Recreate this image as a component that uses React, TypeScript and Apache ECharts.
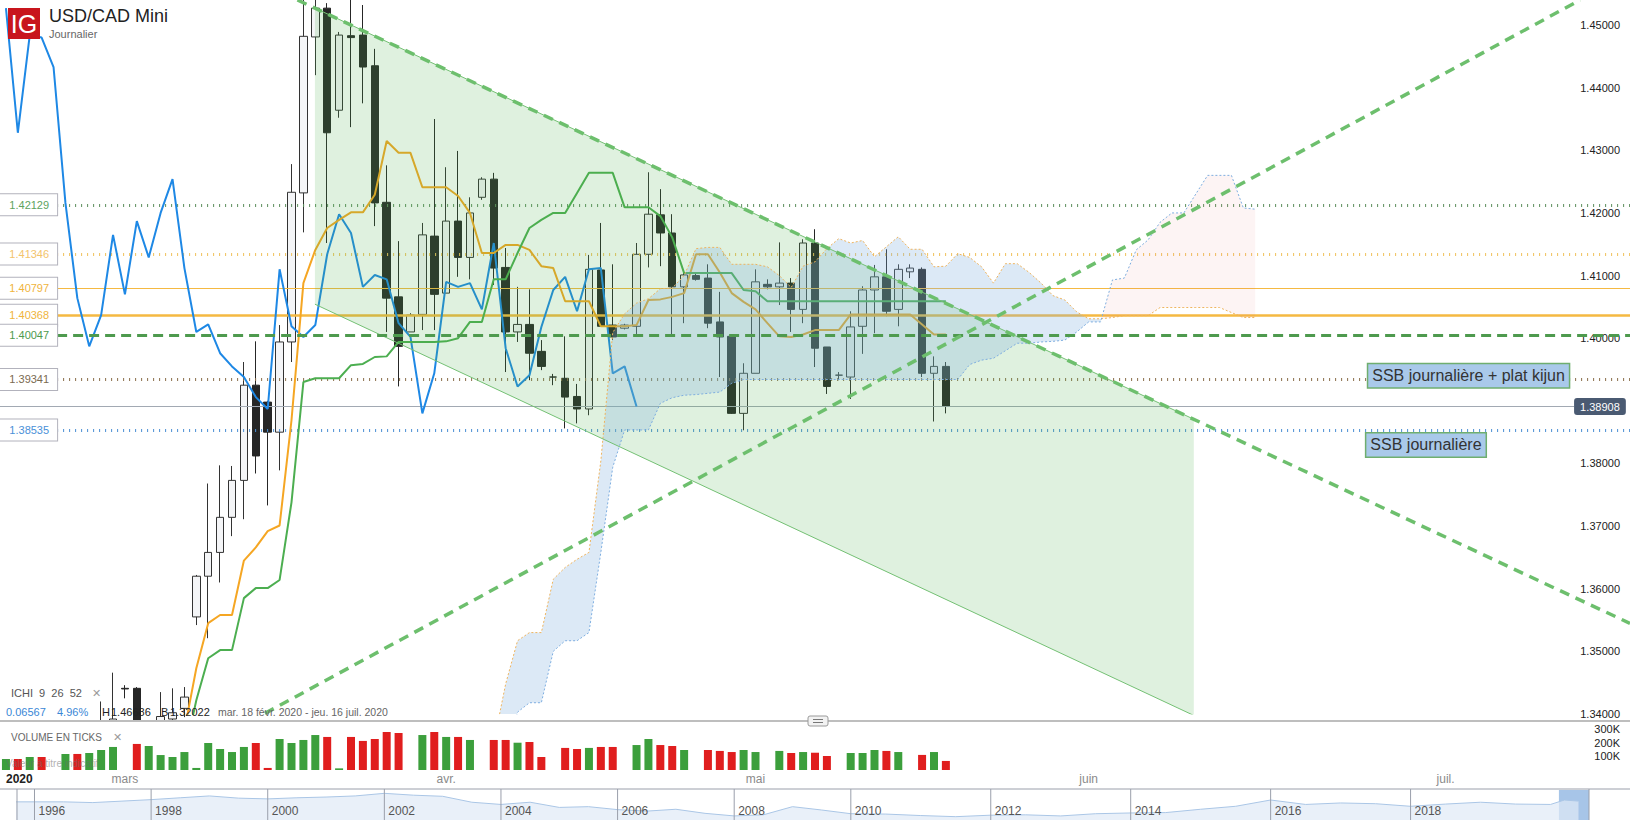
import React, { useEffect, useRef } from 'react';
import * as echarts from 'echarts';

const FONT = 'Liberation Sans, Arial, sans-serif';

// ---------- x slots (trading sessions, then calendar days in the future) ----------
const SLOT_COUNT = 137;
const slotKeys: string[] = Array.from({ length: SLOT_COUNT }, (_, i) => String(i));
const monthLabels: [number, string][] = [
  [10, 'mars'], [37, 'avr.'], [63, 'mai'], [91, 'juin'], [121, 'juil.'],
];

// ---------- candles: [open, close, low, high] ----------
const candles: number[][] = [
  [1.3240, 1.3262, 1.3225, 1.3275], [1.3262, 1.3248, 1.3205, 1.3270], [1.3248, 1.3275, 1.3202, 1.3290],
  [1.3275, 1.3240, 1.3230, 1.3300], [1.3241, 1.3242, 1.3238, 1.3245], [1.3245, 1.3300, 1.3240, 1.3315],
  [1.3300, 1.3285, 1.3270, 1.3345], [1.3285, 1.3330, 1.3280, 1.3355], [1.3330, 1.3385, 1.3320, 1.3420],
  [1.3385, 1.3392, 1.3330, 1.3466], [1.3441, 1.3440, 1.3425, 1.3446], [1.3441, 1.3370, 1.3340, 1.3443],
  [1.3360, 1.3378, 1.3320, 1.3390], [1.3378, 1.3396, 1.3340, 1.3435], [1.3392, 1.3402, 1.3360, 1.3441],
  [1.3409, 1.3427, 1.3395, 1.3443], [1.3555, 1.3620, 1.3542, 1.3622], [1.3620, 1.3658, 1.3521, 1.3768],
  [1.3658, 1.3714, 1.3610, 1.3797], [1.3714, 1.3773, 1.3684, 1.3796], [1.3773, 1.3925, 1.3711, 1.3962],
  [1.3925, 1.3812, 1.3784, 1.3995], [1.3898, 1.3850, 1.3733, 1.3900], [1.3850, 1.3994, 1.3789, 1.4021],
  [1.3994, 1.4233, 1.3962, 1.4278], [1.4232, 1.4482, 1.4169, 1.4550], [1.4481, 1.4527, 1.4420, 1.4669],
  [1.4527, 1.4328, 1.4152, 1.4535], [1.4364, 1.4484, 1.4352, 1.4489], [1.4483, 1.4480, 1.4337, 1.4552],
  [1.4484, 1.4433, 1.4375, 1.4532], [1.4435, 1.4216, 1.4179, 1.4462], [1.4217, 1.4064, 1.4010, 1.4276],
  [1.4066, 1.3987, 1.3923, 1.4155], [1.4010, 1.4037, 1.4010, 1.4040], [1.4038, 1.4165, 1.4013, 1.4184],
  [1.4163, 1.4070, 1.4013, 1.4350], [1.4072, 1.4187, 1.4072, 1.4273], [1.4187, 1.4129, 1.4098, 1.4299],
  [1.4129, 1.4200, 1.4094, 1.4225], [1.4225, 1.4254, 1.4221, 1.4257], [1.4254, 1.4112, 1.4085, 1.4264],
  [1.4113, 1.4010, 1.3946, 1.4144], [1.4010, 1.4022, 1.3994, 1.4082], [1.4022, 1.3976, 1.3933, 1.4078],
  [1.3979, 1.3955, 1.3949, 1.3997], [1.3938, 1.3938, 1.3925, 1.3943], [1.3936, 1.3906, 1.3856, 1.4003],
  [1.3907, 1.3887, 1.3864, 1.3927], [1.3887, 1.4110, 1.3877, 1.4133], [1.4109, 1.4019, 1.4018, 1.4184],
  [1.4021, 1.4002, 1.3997, 1.4118], [1.4016, 1.4021, 1.4014, 1.4023], [1.4019, 1.4134, 1.4005, 1.4152],
  [1.4134, 1.4198, 1.4113, 1.4265], [1.4197, 1.4168, 1.4115, 1.4238], [1.4168, 1.4082, 1.4002, 1.4198],
  [1.4082, 1.4101, 1.4024, 1.4106], [1.4100, 1.4094, 1.4092, 1.4104], [1.4096, 1.4024, 1.4016, 1.4118],
  [1.4026, 1.4002, 1.3938, 1.4074], [1.4003, 1.3880, 1.3879, 1.4003], [1.3880, 1.3944, 1.3853, 1.3960],
  [1.3944, 1.4090, 1.3944, 1.4110], [1.4086, 1.4082, 1.4078, 1.4094], [1.4082, 1.4088, 1.4053, 1.4153],
  [1.4088, 1.4046, 1.4010, 1.4096], [1.4046, 1.4152, 1.4024, 1.4158], [1.4152, 1.3984, 1.3954, 1.4174],
  [1.3986, 1.3923, 1.3911, 1.3986], [1.3941, 1.3941, 1.3933, 1.3946], [1.3938, 1.4018, 1.3903, 1.4043],
  [1.4019, 1.4077, 1.3975, 1.4083], [1.4077, 1.4098, 1.4008, 1.4117], [1.4098, 1.4043, 1.4035, 1.4142],
  [1.4046, 1.4110, 1.4019, 1.4118], [1.4106, 1.4112, 1.4096, 1.4118], [1.4110, 1.3944, 1.3938, 1.4113],
  [1.3944, 1.3955, 1.3867, 1.3971], [1.3955, 1.3891, 1.3880, 1.3962],
];

// ---------- tick volume (thousands), null = no bar ----------
const volumesK: (number | null)[] = [
  80, 80, 95, 95, null, 117, 117, 124, 146, 168, null, 190, 175, 109, 95, 131, 15, 197, 153, 131,
  168, 197, 15, 226, 197, 219, 255, 241, 12, 241, 212, 226, 277, 270, null, 255, 277, 241, 241, 219,
  null, 219, 219, 199, 204, 95, null, 161, 153, 161, 168, 168, null, 182, 226, 182, 175, 146, null, 146,
  139, 131, 146, 131, null, 139, 124, 131, 126, 102, null, 124, 124, 146, 139, 131, null, 110, 131, 66,
];

// ---------- Ichimoku (9, 26, 52) ----------
const tenkan: number[] = [
  1.3275, 1.3270, 1.3262, 1.3251, 1.3251, 1.3256, 1.3275, 1.3279, 1.3311, 1.3334,
  1.3334, 1.3337, 1.3343, 1.3353, 1.3372, 1.3374, 1.3473, 1.3545, 1.3558, 1.3558,
  1.3645, 1.3666, 1.3692, 1.3701, 1.3869, 1.4088, 1.4141, 1.4176, 1.4189, 1.4201,
  1.4201, 1.4229, 1.4315, 1.4296, 1.4296, 1.4241, 1.4241, 1.4241, 1.4227, 1.4200,
  1.4136, 1.4136, 1.4149, 1.4149, 1.4141, 1.4115, 1.4112, 1.4059, 1.4059, 1.4059,
  1.4019, 1.4019, 1.4019, 1.4021, 1.4061, 1.4062, 1.4066, 1.4072, 1.4134, 1.4134,
  1.4105, 1.4072, 1.4058, 1.4046, 1.4024, 1.4003, 1.4002, 1.4006, 1.4013, 1.4013,
  1.4013, 1.4038, 1.4038, 1.4038, 1.4038, 1.4038, 1.4038, 1.4022, 1.4006, 1.4006,
];
const kijun: number[] = [
  1.3235, 1.3235, 1.3235, 1.3235, 1.3235, 1.3240, 1.3255, 1.3258, 1.3290, 1.3320,
  1.3320, 1.3320, 1.3330, 1.3334, 1.3334, 1.3334, 1.3422, 1.3489, 1.3502, 1.3502,
  1.3585, 1.3601, 1.3601, 1.3614, 1.3738, 1.3930, 1.3936, 1.3936, 1.3936, 1.3957,
  1.3959, 1.3970, 1.3971, 1.3994, 1.3994, 1.3994, 1.3994, 1.3995, 1.4000, 1.4026,
  1.4026, 1.4094, 1.4094, 1.4136, 1.4176, 1.4189, 1.4200, 1.4200, 1.4232, 1.4264,
  1.4264, 1.4264, 1.4209, 1.4209, 1.4209, 1.4195, 1.4161, 1.4104, 1.4104, 1.4104,
  1.4104, 1.4104, 1.4077, 1.4075, 1.4059, 1.4059, 1.4059, 1.4059, 1.4059, 1.4059,
  1.4059, 1.4059, 1.4059, 1.4059, 1.4059, 1.4059, 1.4059, 1.4059, 1.4059, 1.4059,
];
const chikou: number[] = [
  1.4527, 1.4328, 1.4484, 1.4480, 1.4433, 1.4216, 1.4064, 1.3987, 1.4037, 1.4165,
  1.4070, 1.4187, 1.4129, 1.4200, 1.4254, 1.4112, 1.4010, 1.4022, 1.3976, 1.3955,
  1.3938, 1.3906, 1.3887, 1.4110, 1.4019, 1.4002, 1.4021, 1.4134, 1.4198, 1.4168,
  1.4082, 1.4101, 1.4094, 1.4024, 1.4002, 1.3880, 1.3944, 1.4090, 1.4082, 1.4088,
  1.4046, 1.4152, 1.3984, 1.3923, 1.3941, 1.4018, 1.4077, 1.4098, 1.4043, 1.4110,
  1.4112, 1.3944, 1.3955, 1.3891,
];
const CLOUD_START = 40;
const senkouA: number[] = [
  1.3340, 1.3354, 1.3448, 1.3517, 1.3530, 1.3530, 1.3615, 1.3634, 1.3647, 1.3658,
  1.3804, 1.4009, 1.4039, 1.4056, 1.4063, 1.4079, 1.4080, 1.4100, 1.4143, 1.4145,
  1.4145, 1.4118, 1.4118, 1.4118, 1.4114, 1.4100, 1.4081, 1.4115, 1.4122, 1.4143,
  1.4159, 1.4152, 1.4156, 1.4130, 1.4146, 1.4162, 1.4142, 1.4142, 1.4114, 1.4115,
  1.4135, 1.4129, 1.4114, 1.4088, 1.4119, 1.4119, 1.4105, 1.4088, 1.4068, 1.4061,
  1.4042, 1.4031, 1.4031, 1.4033, 1.4036, 1.4036, 1.4036, 1.4049, 1.4049, 1.4049,
  1.4049, 1.4049, 1.4049, 1.4041, 1.4033, 1.4033,
];
const senkouB: number[] = [
  1.3320, 1.3325, 1.3329, 1.3403, 1.3418, 1.3418, 1.3500, 1.3517, 1.3517, 1.3530,
  1.3658, 1.3794, 1.38535, 1.38535, 1.38535, 1.3896, 1.3905, 1.3909, 1.3910, 1.3912,
  1.3914, 1.3928, 1.39341, 1.39341, 1.39341, 1.39341, 1.39341, 1.39341, 1.39341, 1.39341,
  1.39341, 1.39341, 1.39341, 1.39341, 1.39341, 1.39341, 1.39341, 1.39341, 1.39341, 1.39341,
  1.39341, 1.3958, 1.3965, 1.3968, 1.3980, 1.3992, 1.3992, 1.3994, 1.3995, 1.3997,
  1.4010, 1.4026, 1.4026, 1.4093, 1.4096, 1.4141, 1.4157, 1.4185, 1.4200, 1.4200,
  1.4230, 1.4260, 1.4260, 1.4260, 1.4208, 1.4206,
];

// ---------- drawn objects (slot, price) ----------
const channelUpper: [number, number][] = [[25.97, 1.45271], [99.84, 1.38706]];
const channelLower: [number, number][] = [[25.97, 1.40543], [99.84, 1.33977]];
const trendDown: [number, number][] = [[24.5, 1.4540], [136.5, 1.35447]];
const trendUp: [number, number][] = [[20.51, 1.3388], [132.3, 1.45399]];

const levels = [
  { price: 1.42129, line: '#5d8f5d', width: 3, dash: [1, 5] as any, text: '#5ea35e', top: false },
  { price: 1.41346, line: '#f0c15a', width: 3, dash: [1, 5] as any, text: '#f3c46c', top: false },
  { price: 1.40797, line: '#f5b942', width: 1, dash: 'solid' as any, text: '#f0b43c', top: false },
  { price: 1.40368, line: '#f5b942', width: 2.5, dash: 'solid' as any, text: '#f0b43c', top: false },
  { price: 1.40047, line: '#4e9a4e', width: 3, dash: [10, 6] as any, text: '#4e9a4e', top: true },
  { price: 1.39341, line: '#8a6e4a', width: 3, dash: [1, 5] as any, text: '#7a6a50', top: false },
  { price: 1.38535, line: '#4a8ed4', width: 3, dash: [1, 5] as any, text: '#4a90d8', top: false },
];
const LEVEL_START = 4.3;
const lastPrice = 1.38908;
// axis tick hidden behind the last-price tag
const hiddenPriceTicks: number[] = [1.39];
const annotations = [
  { slot: 114.46, price: 1.3940, text: 'SSB journalière + plat kijun' },
  { slot: 114.3, price: 1.38295, text: 'SSB journalière' },
];

// ---------- navigator (long-term history) ----------
const navYears: number[] = [
  1995.5, 1996, 1996.5, 1997, 1997.5, 1998, 1998.5, 1999, 1999.5, 2000, 2000.5, 2001, 2001.5,
  2002, 2002.5, 2003, 2003.5, 2004, 2004.5, 2005, 2005.5, 2006, 2006.5, 2007, 2007.5, 2008,
  2008.5, 2009, 2009.5, 2010, 2010.5, 2011, 2011.5, 2012, 2012.5, 2013, 2013.5, 2014, 2014.5,
  2015, 2015.5, 2016, 2016.5, 2017, 2017.5, 2018, 2018.5, 2019, 2019.5, 2020, 2020.2, 2020.4,
];
const navValues: number[] = [
  1.37, 1.37, 1.37, 1.35, 1.39, 1.43, 1.48, 1.53, 1.47, 1.45, 1.48, 1.50, 1.53,
  1.60, 1.55, 1.52, 1.36, 1.30, 1.36, 1.22, 1.24, 1.16, 1.12, 1.17, 1.06, 0.99,
  1.02, 1.24, 1.15, 1.05, 1.04, 1.00, 0.97, 1.01, 1.02, 0.99, 1.05, 1.07, 1.08,
  1.17, 1.25, 1.42, 1.30, 1.34, 1.32, 1.25, 1.31, 1.36, 1.31, 1.30, 1.42, 1.39,
];
const navYearTicks: number[] = [1996, 1998, 2000, 2002, 2004, 2006, 2008, 2010, 2012, 2014, 2016, 2018];
// navigator is linear in bars: 5 bars/week before 2010, 6 after
const navIndex = (y: number) => (y < 2010 ? (y - 1995) * 5 : 75 + (y - 2010) * 6);

const UP_VOL = '#3c9f3c';
const DOWN_VOL = '#e01e1e';

function buildOption(): any {
  const pad = (start: number, arr: number[]) =>
    Array.from({ length: start + arr.length }, (_, i) => (i < start ? null : arr[i - start]));

  const volData = volumesK.map((v, i) =>
    v == null ? '-' : { value: v * 1000, itemStyle: { color: candles[i][1] >= candles[i][0] ? UP_VOL : DOWN_VOL } });

  const monthMap: Record<number, string> = {};
  monthLabels.forEach(([i, l]) => (monthMap[i] = l));

  const levelItem = (lv: typeof levels[number]) => [
    {
      coord: [LEVEL_START, lv.price],
      lineStyle: { color: lv.line, width: lv.width, type: lv.dash },
      label: {
        show: true, position: 'start', distance: 0, formatter: lv.price.toFixed(5),
        color: lv.text, fontSize: 11, fontFamily: FONT, backgroundColor: '#fff',
        borderColor: '#b2b2bc', borderWidth: 1, padding: [5, 8, 5, 10],
      },
    },
    { coord: [136.5, lv.price] },
  ];

  const clipGroup = (params: any, children: any[]) => {
    const cs = params.coordSys;
    return {
      type: 'group',
      clipPath: { type: 'rect', shape: { x: cs.x, y: cs.y, width: cs.width, height: cs.height } },
      children,
    };
  };

  return {
    animation: false,
    backgroundColor: '#fff',
    textStyle: { fontFamily: FONT },
    grid: [
      { left: 0, top: 0, width: 1630, height: 714 },
      { left: 0, top: 722, width: 1630, height: 48 },
      { left: 17, top: 790, width: 1572, height: 30 },
    ],
    xAxis: [
      { type: 'category', gridIndex: 0, data: slotKeys, show: false },
      { type: 'value', gridIndex: 0, min: -0.5, max: SLOT_COUNT - 0.5, show: false },
      {
        type: 'category', gridIndex: 1, data: slotKeys, z: 5,
        axisLine: { show: false }, axisTick: { show: false },
        axisLabel: {
          interval: 0, margin: 3, color: '#8a8a8a', fontSize: 12, fontFamily: FONT,
          formatter: (_v: string, i: number) => monthMap[i] ?? '',
        },
      },
      { type: 'value', gridIndex: 2, min: navIndex(1995.7), max: navIndex(2020.55), show: false },
    ],
    yAxis: [
      {
        type: 'value', gridIndex: 0, position: 'right', min: 1.34, max: 1.454, interval: 0.01,
        axisLine: { show: false }, axisTick: { show: false }, splitLine: { show: false },
        axisLabel: {
          inside: true, margin: 10, color: '#222', fontSize: 11, fontFamily: FONT, showMaxLabel: false,
          formatter: (v: number) =>
            hiddenPriceTicks.some((h) => Math.abs(h - v) < 1e-6) ? '' : v.toFixed(5),
        },
      },
      {
        type: 'value', gridIndex: 1, position: 'right', min: 0, max: 350000, interval: 100000, z: 5,
        axisLine: { show: false }, axisTick: { show: false }, splitLine: { show: false },
        axisLabel: {
          inside: true, margin: 10, color: '#222', fontSize: 11, fontFamily: FONT, showMaxLabel: false,
          formatter: (v: number) => (v === 0 ? '' : v / 1000 + 'K'),
        },
      },
      { type: 'value', gridIndex: 2, min: 0.88, max: 1.69, show: false },
    ],
    series: [
      {
        type: 'candlestick', xAxisIndex: 0, yAxisIndex: 0, data: candles, barWidth: 8, clip: true, z: 1,
        itemStyle: { color: '#f4f5f7', color0: '#262626', borderColor: '#333', borderColor0: '#262626', borderWidth: 1 },
      },
      {
        type: 'line', name: 'chikou', xAxisIndex: 0, yAxisIndex: 0, data: chikou, symbol: 'none', z: 3,
        lineStyle: { color: '#1e88e5', width: 2 },
      },
      {
        type: 'line', name: 'tenkan', xAxisIndex: 0, yAxisIndex: 0, data: tenkan, symbol: 'none', z: 3,
        lineStyle: { color: '#f5a623', width: 2 },
      },
      {
        type: 'line', name: 'kijun', xAxisIndex: 0, yAxisIndex: 0, data: kijun, symbol: 'none', z: 3,
        lineStyle: { color: '#4cae50', width: 2 },
      },
      // horizontal levels (under overlays)
      {
        type: 'line', xAxisIndex: 1, yAxisIndex: 0, data: [[136, 1.40]], symbol: 'none', z: 3,
        lineStyle: { width: 0 },
        markLine: {
          z: 3, silent: true, symbol: ['none', 'none'], animation: false,
          data: [
            ...levels.filter((l) => !l.top).map(levelItem),
            [
              {
                coord: [-0.5, lastPrice], lineStyle: { color: '#a2a9b3', width: 1, type: 'solid' },
                label: {
                  show: true, position: 'end', distance: 0, formatter: lastPrice.toFixed(5),
                  color: '#fff', backgroundColor: '#4a5a72', padding: [3, 6, 3, 6], borderRadius: 3,
                  fontSize: 11, fontFamily: FONT,
                },
              },
              { coord: [131.8, lastPrice] },
            ],
          ],
        },
      },
      // channel fill
      {
        type: 'custom', xAxisIndex: 1, yAxisIndex: 0, z: 4, silent: true,
        data: [[channelUpper[0][0], channelUpper[0][1]]],
        renderItem: (params: any, api: any) => {
          const pts = [
            api.coord(channelUpper[0]), api.coord(channelUpper[1]),
            api.coord(channelLower[1]), api.coord(channelLower[0]),
          ];
          return clipGroup(params, [
            { type: 'polygon', shape: { points: pts }, style: { fill: 'rgba(76,175,80,0.18)', stroke: 'none' } },
          ]);
        },
      },
      // kumo fill
      {
        type: 'custom', xAxisIndex: 1, yAxisIndex: 0, z: 4, silent: true,
        data: [[CLOUD_START, senkouA[0]]],
        renderItem: (params: any, api: any) => {
          const up = 'rgba(130,176,223,0.28)';
          const down = 'rgba(235,110,110,0.08)';
          const runs: { s: number; a: number[][]; b: number[][] }[] = [];
          const sg = (d: number) => (d >= 0 ? 1 : -1);
          let cur = { s: sg(senkouA[0] - senkouB[0]), a: [[CLOUD_START, senkouA[0]]], b: [[CLOUD_START, senkouB[0]]] };
          for (let k = 0; k < senkouA.length - 1; k++) {
            const d0 = senkouA[k] - senkouB[k];
            const d1 = senkouA[k + 1] - senkouB[k + 1];
            const x0 = CLOUD_START + k;
            if (d0 * d1 < 0) {
              const t = d0 / (d0 - d1);
              const xm = x0 + t;
              const ym = senkouA[k] + t * (senkouA[k + 1] - senkouA[k]);
              cur.a.push([xm, ym]);
              cur.b.push([xm, ym]);
              runs.push(cur);
              cur = { s: sg(d1), a: [[xm, ym]], b: [[xm, ym]] };
            }
            cur.a.push([x0 + 1, senkouA[k + 1]]);
            cur.b.push([x0 + 1, senkouB[k + 1]]);
          }
          runs.push(cur);
          const children = runs.map((r) => ({
            type: 'polygon',
            shape: { points: [...r.a, ...r.b.slice().reverse()].map((p) => api.coord(p)) },
            style: { fill: r.s > 0 ? up : down, stroke: 'none' },
          }));
          return clipGroup(params, children);
        },
      },
      {
        type: 'line', name: 'ssa', xAxisIndex: 0, yAxisIndex: 0, data: pad(CLOUD_START, senkouA), symbol: 'none', z: 5,
        lineStyle: { color: '#efb45e', width: 1, type: [2, 2] },
      },
      {
        type: 'line', name: 'ssb', xAxisIndex: 0, yAxisIndex: 0, data: pad(CLOUD_START, senkouB), symbol: 'none', z: 5,
        lineStyle: { color: '#7eaee0', width: 1, type: [2, 2] },
      },
      // channel edges
      {
        type: 'line', xAxisIndex: 1, yAxisIndex: 0, data: channelUpper, symbol: 'none', z: 5,
        lineStyle: { color: '#74c074', width: 1 },
      },
      {
        type: 'line', xAxisIndex: 1, yAxisIndex: 0, data: channelLower, symbol: 'none', z: 5,
        lineStyle: { color: '#74c074', width: 1 },
      },
      // dashed trend lines
      {
        type: 'line', xAxisIndex: 1, yAxisIndex: 0, data: trendDown, symbol: 'none', z: 6,
        lineStyle: { color: '#6dbf6d', width: 3.5, type: [10, 7] },
      },
      {
        type: 'line', xAxisIndex: 1, yAxisIndex: 0, data: trendUp, symbol: 'none', z: 6,
        lineStyle: { color: '#6dbf6d', width: 3.5, type: [10, 7] },
      },
      // top level (dashed green) + annotations
      {
        type: 'line', xAxisIndex: 1, yAxisIndex: 0, data: [[136, 1.40]], symbol: 'none', z: 7,
        lineStyle: { width: 0 },
        markLine: {
          z: 6, silent: true, symbol: ['none', 'none'], animation: false,
          data: levels.filter((l) => l.top).map(levelItem),
        },
        markPoint: {
          z: 7, silent: true, symbol: 'rect', symbolSize: 1, itemStyle: { color: 'rgba(0,0,0,0)' },
          data: annotations.map((a) => ({
            coord: [a.slot, a.price],
            label: {
              show: true, position: 'right', distance: 0, formatter: a.text, fontSize: 16, fontFamily: FONT,
              color: '#333', backgroundColor: '#a9c9ea', borderColor: '#6fae6f', borderWidth: 1.5,
              padding: [4, 4, 3, 4],
            },
          })),
        },
      },
      // volume
      {
        type: 'bar', xAxisIndex: 2, yAxisIndex: 1, data: volData, barWidth: 8, z: 3,
      },
      // navigator
      {
        type: 'line', xAxisIndex: 3, yAxisIndex: 2, symbol: 'none', z: 3,
        data: navYears.map((y, i) => [navIndex(y), navValues[i]]),
        lineStyle: { color: '#aac6e6', width: 1 },
        areaStyle: { color: '#e0eaf6', origin: 'start' },
        markArea: {
          z: 3, silent: true, itemStyle: { color: 'rgba(80,140,210,0.5)' },
          data: [[{ xAxis: navIndex(2020.12) }, { xAxis: navIndex(2020.55) }]],
        },
      },
    ],
  };
}

function txt(x: number, y: number, text: string, fill: string, fontSize: number, extra: any = {}) {
  return {
    type: 'text', x, y, z: 100, silent: true,
    style: { text, fill, fontSize, fontFamily: FONT, align: 'left', verticalAlign: 'middle', ...extra },
  };
}

function buildGraphics(chart: any): any[] {
  const g: any[] = [
    // mask below the price pane (candles overflowing the axis minimum)
    { type: 'rect', z: 2, silent: true, shape: { x: 0, y: 720, width: 1630, height: 100 }, style: { fill: '#fff' } },
    // header
    { type: 'rect', z: 100, shape: { x: 8, y: 8, width: 32, height: 31 }, style: { fill: '#c8151d' } },
    txt(24, 24, 'IG', '#fff', 25, { align: 'center' }),
    txt(49, 16, 'USD/CAD Mini', '#222', 18),
    txt(49, 34, 'Journalier', '#666', 11),
    // indicator legend
    txt(11, 693, 'ICHI  9  26  52', '#555', 11),
    txt(92, 693, '✕', '#9a9a9a', 11, { fontWeight: 'bold', fontFamily: 'DejaVu Sans' }),
    txt(6, 712, '0.06567', '#3a87d6', 11),
    txt(57, 712, '4.96%', '#3a87d6', 11),
    txt(102, 712, 'H', '#222', 11),
    txt(111, 712, '1.46686', '#222', 11),
    txt(161, 712, 'B', '#222', 11),
    txt(170, 712, '1.32022', '#222', 11),
    txt(218, 712, 'mar. 18 févr. 2020 - jeu. 16 juil. 2020', '#666', 10.5),
    // separator + handle
    { type: 'line', z: 100, shape: { x1: 0, y1: 721, x2: 1630, y2: 721 }, style: { stroke: '#a8a8a8', lineWidth: 1.5 } },
    { type: 'rect', z: 101, shape: { x: 808, y: 716, width: 20, height: 10, r: 2 }, style: { fill: '#f2f2f2', stroke: '#9a9a9a', lineWidth: 1 } },
    { type: 'line', z: 102, shape: { x1: 813, y1: 719.5, x2: 823, y2: 719.5 }, style: { stroke: '#777', lineWidth: 1 } },
    { type: 'line', z: 102, shape: { x1: 813, y1: 722.5, x2: 823, y2: 722.5 }, style: { stroke: '#777', lineWidth: 1 } },
    // volume legend
    txt(11, 737, 'VOLUME EN TICKS', '#666', 10),
    txt(113, 737, '✕', '#9a9a9a', 11, { fontWeight: 'bold', fontFamily: 'DejaVu Sans' }),
    txt(6, 763, 'Valeur à titre indicatif', 'rgba(110,110,110,0.55)', 10),
    txt(6, 779, '2020', '#222', 12, { fontWeight: 'bold' }),
    // navigator frame
    { type: 'line', z: 100, shape: { x1: 0, y1: 789, x2: 1630, y2: 789 }, style: { stroke: '#9a9fab', lineWidth: 1 } },
    { type: 'line', z: 100, shape: { x1: 17, y1: 789, x2: 17, y2: 820 }, style: { stroke: '#9a9fab', lineWidth: 1 } },
    { type: 'line', z: 100, shape: { x1: 1589, y1: 789, x2: 1589, y2: 820 }, style: { stroke: '#9a9fab', lineWidth: 1 } },
  ];
  navYearTicks.forEach((yr) => {
    const x = chart.convertToPixel({ xAxisIndex: 3 }, navIndex(yr));
    g.push({ type: 'line', z: 100, shape: { x1: x, y1: 789, x2: x, y2: 820 }, style: { stroke: '#9a9fab', lineWidth: 1 } });
    g.push(txt(x + 4, 811, String(yr), '#555', 12));
  });
  return g;
}

export default function App() {
  const ref = useRef<HTMLDivElement>(null);
  useEffect(() => {
    if (!ref.current) return;
    const chart = echarts.init(ref.current, null, { renderer: 'svg' });
    chart.setOption(buildOption());
    chart.setOption({ graphic: buildGraphics(chart) });
    return () => chart.dispose();
  }, []);
  return (
    <div
      ref={ref}
      style={{ position: 'fixed', left: 0, top: 0, width: 1630, height: 820, background: '#fff' }}
    />
  );
}
